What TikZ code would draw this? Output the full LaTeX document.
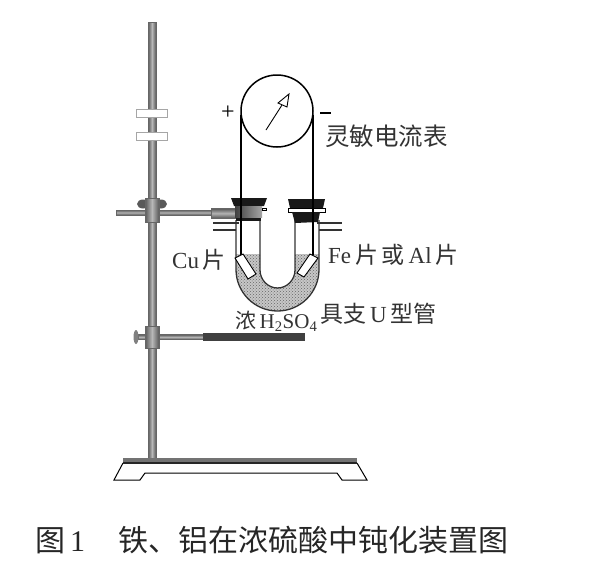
\documentclass[tikz,border=0pt]{standalone}
\usepackage{fontspec}
\setmainfont{Liberation Serif}
\newfontfamily\cjk{Noto Sans CJK SC}
\usetikzlibrary{patterns}
\tikzset{
  vrod/.style={draw=black!60,line width=.5pt,left color=black!65,right color=black!65,middle color=black!28},
  hrod/.style={draw=black!60,line width=.5pt,top color=black!65,bottom color=black!65,middle color=black!30},
  ring/.style={draw=gray!70,line width=.9pt,fill=white},
  blackpart/.style={fill=black!90,draw=none},
  glass/.style={line width=1.3pt,draw=black!80},
  wire/.style={line width=1.5pt,draw=black},
  label/.style={inner sep=0pt,text=black!80,font=\fontsize{23}{25}\selectfont},
}
\begin{document}
\begin{tikzpicture}[x=1pt,y=-1pt]
\useasboundingbox (0,0) rectangle (600,563);
\fill[white] (0,0) rectangle (600,563);
% stand
\draw[vrod] (148,22) rectangle (156,458);
\draw[ring] (136,109) rectangle (167,117);
\draw[ring] (136,132) rectangle (167,140);
% base
\draw[line width=1pt,fill=white] (123,463) -- (114,480) -- (140,480) -- (145,473) -- (337,473) -- (342,480) -- (367,480) -- (357,463);
\fill[black!55] (123,458) rectangle (357,462);
\fill[black!85] (123,461.5) rectangle (357,463.5);
% upper clamp
\draw[hrod] (116,210) rectangle (212,215);
\fill[black!65] (143,204) ellipse (6 and 4.5);
\fill[black!65] (161,204) ellipse (6 and 4.5);
\draw[vrod] (145,198) rectangle (159,222);
\draw[hrod] (211,208.5) rectangle (236,218);
% lower clamp
\draw[hrod] (138,334.5) rectangle (204,339.5);
\draw[vrod] (145,326) rectangle (159,348);
\fill[black!50] (136,337) ellipse (2.5 and 7);
\fill[black!75] (203,333) rectangle (305,341);
% U tube liquid
\fill[black!22]
  (236,254) -- (236,269.5) .. controls (236,292.4) and (254.6,311) .. (277.5,311)
  .. controls (300.4,311) and (319,292.4) .. (319,269.5) -- (319,254) -- (295,254) -- (295,270)
  .. controls (295,279.7) and (287.2,288) .. (277.5,288) .. controls (267.8,288) and (260,279.7) .. (260,270) -- (260,254) -- cycle;
\path[pattern=crosshatch dots,pattern color=black!60]
  (236,254) -- (236,269.5) .. controls (236,292.4) and (254.6,311) .. (277.5,311)
  .. controls (300.4,311) and (319,292.4) .. (319,269.5) -- (319,254) -- (295,254) -- (295,270)
  .. controls (295,279.7) and (287.2,288) .. (277.5,288) .. controls (267.8,288) and (260,279.7) .. (260,270) -- (260,254) -- cycle;
% U tube walls
\draw[glass] (236,220) -- (236,269.5) .. controls (236,292.4) and (254.6,311) .. (277.5,311)
  .. controls (300.4,311) and (319,292.4) .. (319,269.5) -- (319,220);
\draw[glass] (260,220) -- (260,270) .. controls (260,279.7) and (267.8,288) .. (277.5,288)
  .. controls (287.2,288) and (295,279.7) .. (295,270) -- (295,220);
% side arms
\draw[glass] (213,223) -- (239,223);
\draw[glass] (213,230) -- (236,230);
\draw[glass] (317,223) -- (342,223);
\draw[glass] (319,230) -- (342,230);
% stoppers
\fill[blackpart] (231,198) -- (267,198) -- (264,206) -- (234,206) -- cycle;
\fill[blackpart] (236,216) rectangle (261,221);
\shade[left color=black!75,right color=black!35] (235,206) rectangle (262,217);
\draw[line width=.6pt,fill=white] (262,208) rectangle (266,210);
\fill[blackpart] (288,199) -- (325,199) -- (323,208) -- (290,208) -- cycle;
\draw[line width=.7pt,fill=white] (288,208.5) rectangle (325,212);
\fill[blackpart] (292,212) -- (320,212) -- (318,222) -- (295,223) -- cycle;
% meter and wires
\node[circle,draw,line width=1.5pt,minimum size=72pt,inner sep=0pt] (meter) at (277,111) {};
\coordinate (lt) at (241,115);
\coordinate (rt) at (313,115);
\coordinate (lb) at (241,255);
\coordinate (rb) at (313,255);
\draw[wire] (lt) -- (lb);
\draw[wire] (rt) -- (rb);
% electrodes
\draw[line width=.9pt,fill=white] (235,258) -- (243,254) -- (256,274) -- (248,279) -- cycle;
\draw[line width=.9pt,fill=white] (310,254) -- (318,258) -- (304,277) -- (297,273) -- cycle;
% pointer
\coordinate (ptail) at (266,130);
\coordinate (ptip) at (289,94);
\draw[line width=.9pt] (ptail) -- (282,105);
\draw[line width=.9pt,fill=white,line join=miter] (ptip) -- (278,103) -- (287,107) -- cycle;
% labels
\node[inner sep=0pt,font=\fontsize{24}{26}\selectfont] (plus) at (228,113) {+};
\draw[line width=1.2pt] (320,113) -- (331,113);
\node[label,anchor=west] (meterlabel) at (325,136) {\cjk\fontsize{24.5}{26}\selectfont 灵敏电流表};
\node[label,anchor=west] (culabel) at (172,260) {Cu\,{\cjk 片}};
\node[label,anchor=west] (felabel) at (328,255) {Fe\,{\cjk 片}\,{\cjk 或}\,Al\,{\cjk 片}};
\node[label,anchor=west,font=\fontsize{21}{23}\selectfont] (acidlabel) at (235,321) {{\cjk 浓}\,H\textsubscript{2}SO\textsubscript{4}};
\node[label,anchor=west] (tubelabel) at (320,314) {{\cjk 具支}\,U\,{\cjk 型管}};
\node[anchor=west,inner sep=0pt,text=black!85,font=\fontsize{30}{32}\selectfont] (caption) at (35,540)
  {{\cjk 图}\,1\hspace{33pt}{\cjk 铁、铝在浓硫酸中钝化装置图}};
\end{tikzpicture}
\end{document}
